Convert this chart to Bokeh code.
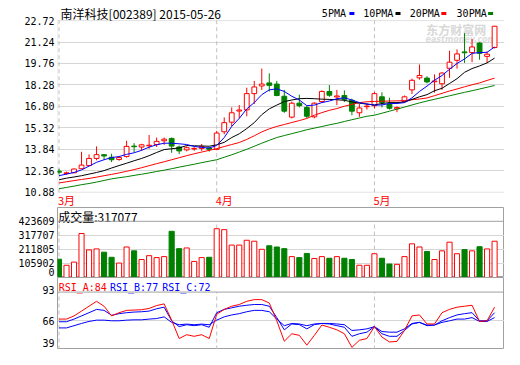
from bokeh.plotting import figure
from bokeh.models import Range1d, FixedTicker, NumeralTickFormatter, BoxAnnotation, Span, ColumnDataSource
from bokeh.layouts import column
from bokeh.embed import file_html
from bokeh.resources import INLINE
from bokeh.core.properties import value

# ---------------- data ----------------
title_text = "南洋科技[002389] 2015-05-26"
month_labels = ["3月", "4月", "5月"]
month_start = [0, 21, 42]
ma_names = ["5PMA", "10PMA", "20PMA", "30PMA"]
vol_label = "成交量:317077"
rsi_labels = ["RSI_A:84", "RSI_B:77", "RSI_C:72"]

open_ = [12.33, 12.17, 12.22, 12.50, 12.72, 13.21, 13.47, 13.29, 13.14, 13.34,
         14.06, 14.00, 14.08, 14.17, 14.43, 14.59, 14.00, 13.80, 13.86, 13.90,
         13.93, 13.84, 15.05, 15.71, 16.48, 16.56, 17.68, 18.21, 18.42, 18.34,
         17.50, 16.06, 17.02, 16.73, 16.08, 17.13, 17.83, 17.45, 17.55, 17.22,
         16.36, 16.78, 16.85, 17.46, 16.96, 16.63, 17.13, 17.94, 18.77, 18.75,
         18.50, 18.36, 19.43, 19.98, 20.56, 20.51, 21.17, 20.25, 20.86]
high = [12.50, 12.30, 12.52, 13.67, 13.49, 14.04, 13.47, 13.53, 13.35, 14.43,
        14.26, 14.22, 14.83, 14.65, 14.65, 14.65, 14.10, 14.05, 14.00, 14.21,
        14.00, 15.11, 16.04, 16.73, 16.89, 18.09, 18.56, 19.41, 19.08, 18.56,
        17.94, 17.13, 17.61, 16.85, 17.08, 17.90, 18.27, 17.94, 17.90, 17.33,
        16.96, 17.00, 17.80, 17.77, 17.40, 16.80, 17.55, 18.71, 19.69, 18.88,
        19.00, 19.15, 20.64, 20.73, 21.85, 21.45, 21.23, 20.58, 22.35]
low = [12.10, 12.08, 12.20, 12.48, 12.68, 13.08, 13.12, 12.96, 13.05, 13.27,
       13.64, 13.75, 13.88, 14.00, 14.15, 13.60, 13.51, 13.70, 13.74, 13.73,
       13.68, 13.78, 14.87, 15.42, 15.97, 16.12, 16.96, 17.94, 17.83, 17.50,
       16.36, 15.97, 16.73, 15.97, 15.98, 17.05, 17.46, 16.89, 17.10, 16.19,
       16.08, 16.58, 16.65, 16.73, 16.58, 16.40, 17.08, 17.65, 18.64, 18.38,
       17.75, 17.94, 18.77, 19.41, 19.80, 19.85, 20.02, 19.80, 20.80]
close = [12.26, 12.22, 12.48, 12.75, 13.21, 13.47, 13.38, 13.12, 13.27, 14.04,
         14.02, 14.15, 14.12, 14.39, 14.54, 14.06, 13.73, 13.95, 13.90, 14.02,
         13.84, 14.96, 15.68, 16.36, 16.55, 17.68, 18.14, 18.34, 18.25, 17.55,
         16.47, 17.02, 16.85, 16.12, 17.02, 17.83, 17.57, 17.52, 17.29, 16.47,
         16.69, 16.82, 17.68, 17.07, 16.67, 16.72, 17.46, 18.60, 18.93, 18.49,
         18.55, 19.10, 19.85, 20.42, 20.50, 20.90, 20.46, 20.40, 22.33]
volume = [137800, 92100, 116000, 331500, 208000, 215400, 190800, 152300, 108800, 229900,
          200900, 135600, 164600, 150100, 157400, 348100, 217600, 222700, 121100, 150100,
          152300, 367700, 360500, 244400, 244400, 280700, 273400, 212500, 239300, 229900,
          217600, 157400, 150100, 181300, 142900, 157400, 145100, 157400, 145100, 135600,
          92100, 92100, 179100, 145100, 101500, 99100, 157400, 253900, 229900, 195800,
          135600, 200900, 266200, 179100, 210300, 200900, 232100, 215400, 273400]
ma5 = [12.02, 12.13, 12.24, 12.42, 12.68, 12.94, 13.12, 13.27, 13.34, 13.49,
       13.60, 13.77, 13.99, 14.15, 14.26, 14.26, 14.22, 14.17, 14.04, 13.97,
       13.93, 14.10, 14.65, 15.42, 15.97, 16.63, 17.06, 17.61, 17.94, 18.01,
       17.83, 17.50, 17.24, 16.85, 16.89, 17.06, 17.17, 17.33, 17.39, 17.24,
       17.06, 16.96, 16.89, 16.90, 17.00, 17.00, 17.06, 17.39, 17.83, 18.20,
       18.60, 18.93, 19.36, 19.76, 20.07, 20.46, 20.51, 20.53, 20.90]
ma10 = [11.74, 11.85, 11.93, 12.02, 12.13, 12.24, 12.37, 12.55, 12.72, 12.88,
        13.05, 13.21, 13.40, 13.62, 13.82, 13.88, 13.93, 14.10, 14.08, 14.07,
        14.05, 14.15, 14.32, 14.65, 14.91, 15.27, 15.68, 16.23, 16.63, 16.89,
        17.13, 17.24, 17.33, 17.35, 17.33, 17.30, 17.28, 17.26, 17.22, 17.11,
        17.02, 16.96, 16.90, 17.00, 17.06, 17.06, 17.10, 17.28, 17.46, 17.61,
        17.88, 18.05, 18.38, 18.71, 19.15, 19.41, 19.59, 19.80, 20.13]
ma20 = [11.52, 11.60, 11.68, 11.76, 11.83, 11.92, 12.02, 12.11, 12.21, 12.32,
        12.44, 12.57, 12.71, 12.85, 12.98, 13.12, 13.26, 13.40, 13.53, 13.65,
        13.77, 13.88, 14.03, 14.17, 14.31, 14.52, 14.77, 15.04, 15.25, 15.42,
        15.55, 15.69, 15.82, 15.97, 16.19, 16.37, 16.53, 16.65, 16.81, 16.94,
        17.06, 17.12, 17.14, 17.16, 17.17, 17.18, 17.20, 17.26, 17.31, 17.38,
        17.54, 17.70, 17.86, 18.00, 18.15, 18.29, 18.42, 18.59, 18.75]
ma30 = [11.12, 11.21, 11.30, 11.40, 11.48, 11.58, 11.69, 11.80, 11.88, 11.95,
        12.04, 12.12, 12.21, 12.31, 12.40, 12.50, 12.61, 12.71, 12.81, 12.92,
        13.02, 13.12, 13.29, 13.46, 13.65, 13.84, 14.05, 14.26, 14.46, 14.65,
        14.79, 14.92, 15.05, 15.19, 15.30, 15.41, 15.53, 15.63, 15.76, 15.88,
        16.00, 16.12, 16.19, 16.33, 16.47, 16.61, 16.75, 16.90, 17.04, 17.17,
        17.29, 17.41, 17.53, 17.65, 17.77, 17.88, 18.00, 18.12, 18.24]
rsi_a = [67.6, 67.6, 70.6, 75.1, 79.7, 84.3, 79.7, 70.6, 73.6, 75.8,
         76.1, 76.4, 77.6, 80.3, 81.9, 66.6, 49.3, 52.9, 51.4, 52.9,
         49.3, 72.1, 76.7, 79.7, 81.3, 84.3, 85.9, 85.9, 82.7, 66.0,
         46.8, 53.8, 52.3, 43.1, 52.3, 62.0, 59.9, 57.5, 53.8, 41.0,
         47.7, 49.3, 60.5, 50.7, 46.1, 46.6, 56.9, 70.6, 71.5, 63.0,
         63.0, 73.6, 76.7, 78.8, 79.7, 80.6, 65.4, 66.0, 78.8]
rsi_b = [65.1, 65.1, 67.6, 70.6, 73.6, 76.7, 75.8, 71.2, 72.7, 73.6,
         74.2, 74.5, 75.1, 77.3, 78.8, 66.0, 60.5, 62.3, 61.4, 62.3,
         59.9, 73.6, 76.7, 78.2, 79.7, 80.6, 81.3, 81.3, 79.7, 69.0,
         57.5, 63.0, 62.4, 58.4, 62.4, 63.5, 63.0, 61.4, 59.9, 51.4,
         53.8, 55.3, 60.5, 53.8, 51.4, 51.4, 56.9, 63.0, 64.5, 61.4,
         62.0, 66.0, 69.0, 71.5, 72.7, 73.6, 66.0, 66.0, 73.6]
rsi_c = [59.3, 59.3, 61.4, 63.5, 65.4, 66.6, 66.6, 66.0, 66.0, 66.6,
         66.9, 66.9, 67.6, 68.1, 69.7, 64.5, 62.3, 62.9, 62.3, 62.9,
         62.3, 66.6, 69.7, 71.5, 72.7, 74.5, 75.8, 75.8, 74.5, 67.6,
         61.4, 63.5, 63.0, 61.4, 63.0, 63.5, 63.5, 63.0, 62.3, 56.9,
         57.5, 58.4, 60.5, 55.9, 55.3, 55.3, 58.4, 63.5, 64.5, 62.0,
         62.0, 64.5, 66.0, 67.6, 67.6, 69.0, 65.4, 65.4, 69.0]
price_ticks = [10.88, 12.36, 13.84, 15.32, 16.80, 18.28, 19.76, 21.24, 22.72]
vol_ticks = [0, 105902, 211805, 317707, 423609]
rsi_ticks = [39, 66, 93]

# ---------------- styling ----------------
RED, GREEN, BLUE, BLACK = "#ff0000", "#008000", "#0000ff", "#000000"
FRAME, GRID, DASH = "#a0a0a0", "#d6d6d6", "#c0c0c0"
MONO, CJK = "DejaVu Sans Mono", "Noto Sans CJK SC"
W, LEFT = 504, 57
ma_colors = [BLUE, BLACK, RED, GREEN]

n = len(close)
idx = list(range(n))
up = [c >= o for o, c in zip(open_, close)]
src = ColumnDataSource(dict(
    x=idx, h=high, l=low,
    top=[max(o, c) for o, c in zip(open_, close)],
    bot=[min(o, c) for o, c in zip(open_, close)],
    col=[RED if u else GREEN for u in up],
    fill=["#ffffff" if u else GREEN for u in up],
    vol=volume, ma5=ma5, ma10=ma10, ma20=ma20, ma30=ma30,
    ra=rsi_a, rb=rsi_b, rc=rsi_c))

xr = Range1d(-0.2, 59.32)


def make(h, yr):
    p = figure(width=W, height=h, x_range=xr, y_range=yr, x_axis_location=None,
               output_backend="svg", toolbar_location=None,
               min_border_left=LEFT, min_border_right=0, min_border_top=0, min_border_bottom=0)
    p.background_fill_color = "white"
    p.border_fill_color = "white"
    p.xgrid.visible = False
    ax = p.yaxis[0]
    ax.major_tick_out = 0
    ax.major_tick_in = 0
    ax.minor_tick_out = 0
    ax.minor_tick_in = 0
    ax.axis_line_color = None
    ax.major_label_standoff = 3
    ax.major_label_text_font = MONO
    ax.major_label_text_font_size = "10px"
    ax.major_label_text_color = BLACK
    p.ygrid.grid_line_color = GRID
    return p


# ---------- price panel ----------
p1 = make(207, Range1d(9.826, 24.104))
p1.outline_line_color = None
p1.yaxis[0].ticker = FixedTicker(ticks=price_ticks)
p1.yaxis[0].formatter = NumeralTickFormatter(format="0.00")
p1.ygrid.ticker = FixedTicker(ticks=price_ticks[1:-1])
p1.add_layout(BoxAnnotation(bottom=price_ticks[0], top=price_ticks[-1], fill_alpha=0,
                            line_color=FRAME, line_width=1))
p1.segment(x0=month_start, y0=[price_ticks[0]] * 3, x1=month_start, y1=[price_ticks[-1]] * 3,
           line_color=DASH, line_dash="4 3", line_width=1)
# watermark
p1.text(x=[48.9], y=[22.07], text=["东方财富网"], text_font=value(CJK), text_font_size="12px",
        text_font_style="bold", text_color="#d8d8d8", text_align="left", text_baseline="middle")
p1.text(x=[48.8], y=[21.42], text=["eastmoney.com"], text_font=value("DejaVu Sans"), text_font_size="8px",
        text_font_style="bold italic", text_color="#dcdcdc", text_align="left", text_baseline="middle")
# candles
p1.segment(x0="x", y0="l", x1="x", y1="h", line_color="col", line_width=1, source=src)
p1.vbar(x="x", width=0.64, top="top", bottom="bot", fill_color="fill", line_color="col",
        line_width=1, source=src)
for key, c in zip(["ma30", "ma20", "ma10", "ma5"], [GREEN, RED, BLACK, BLUE]):
    p1.line(x="x", y=key, line_color=c, line_width=1, source=src)
# header
p1.text(x=[0.21], y=[23.2], text=[title_text], text_font=value(CJK), text_font_size="12px",
        text_color=BLACK, text_align="left", text_baseline="middle")
leg_text_x = [35.0, 40.5, 46.7, 52.94]
leg_mark_x = [39.0, 45.14, 51.24, 57.47]
p1.text(x=leg_text_x, y=[23.2] * 4, text=ma_names, text_font=value(MONO), text_font_size="10px",
        text_color=BLACK, text_align="left", text_baseline="middle")
p1.rect(x=leg_mark_x, y=[23.2] * 4, width=5, height=3, width_units="screen", height_units="screen",
        fill_color=ma_colors, line_color=None)
# month labels
p1.text(x=month_start, y=[10.37] * 3, text=month_labels, text_font=value(CJK), text_font_size="11px",
        text_color=RED, text_align="left", text_baseline="middle", x_offset=-1)

# ---------- volume panel ----------
p2 = make(70, Range1d(0, 527600))
p2.outline_line_color = FRAME
vt = [45200] + vol_ticks[1:]
p2.yaxis[0].ticker = FixedTicker(ticks=vt)
p2.yaxis[0].major_label_overrides = {t: str(v) for t, v in zip(vt, vol_ticks)}
p2.ygrid.ticker = FixedTicker(ticks=vol_ticks[1:-1])
p2.add_layout(Span(location=vol_ticks[-1], dimension="width", line_color=FRAME, line_width=1))
p2.segment(x0=month_start, y0=[0] * 3, x1=month_start, y1=[vol_ticks[-1]] * 3,
           line_color=DASH, line_dash="4 3", line_width=1)
p2.vbar(x="x", width=0.68, top="vol", bottom=0, fill_color="fill", line_color="col",
        line_width=1, source=src)
p2.text(x=[-0.1], y=[461300], text=[vol_label], text_font=value(CJK), text_font_size="12px",
        text_color=BLACK, text_align="left", text_baseline="middle")

# ---------- RSI panel ----------
p3 = make(72, Range1d(39.0, 106.7))
p3.outline_line_color = FRAME
rt = [44.7, 66, 94.5]
p3.yaxis[0].ticker = FixedTicker(ticks=rt)
p3.yaxis[0].major_label_overrides = {t: str(v) for t, v in zip(rt, rsi_ticks)}
p3.ygrid.ticker = FixedTicker(ticks=[rsi_ticks[1]])
p3.add_layout(Span(location=rsi_ticks[-1], dimension="width", line_color=FRAME, line_width=1))
p3.segment(x0=month_start, y0=[39.0] * 3, x1=month_start, y1=[rsi_ticks[-1]] * 3,
           line_color=DASH, line_dash="4 3", line_width=1)
p3.line(x="x", y="rc", line_color=BLUE, line_width=1, source=src)
p3.line(x="x", y="rb", line_color=BLUE, line_width=1, source=src)
p3.line(x="x", y="ra", line_color=RED, line_width=1, source=src)
p3.text(x=[-0.05, 6.79, 13.75], y=[97.5] * 3, text=rsi_labels, text_font=value(MONO),
        text_font_size="10px", text_color=[RED, BLUE, BLUE], text_align="left", text_baseline="middle")

layout = column(p1, p2, p3)
open("out.html", "w").write(file_html(layout, INLINE))
